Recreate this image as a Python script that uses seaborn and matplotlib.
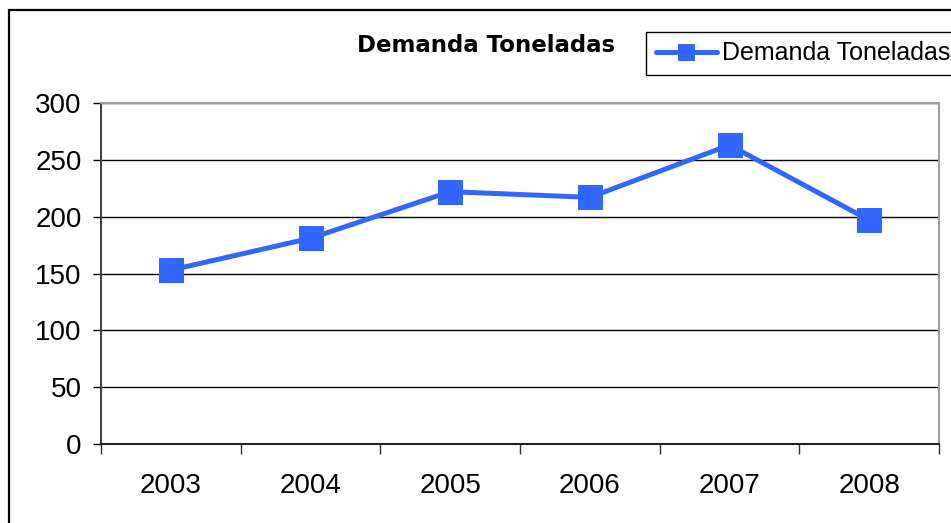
import matplotlib
matplotlib.use("Agg")
import matplotlib.pyplot as plt
from matplotlib.patches import Rectangle
from matplotlib.ticker import FixedLocator
import seaborn as sns
import pandas as pd

# datos
anios = ["2003", "2004", "2005", "2006", "2007", "2008"]
demanda = [153, 181, 222, 217, 263, 197]
serie = "Demanda Toneladas"
y_ticks = [0, 50, 100, 150, 200, 250, 300]

azul = "#3366ff"

sns.set_theme(style="white")
plt.rcParams['font.family'] = ['Liberation Sans', 'DejaVu Sans']
plt.rcParams['text.color'] = 'black'

df = pd.DataFrame({"Anio": anios, "Demanda": demanda})

W, H = 951, 523
fig = plt.figure(figsize=(W / 100, H / 100), dpi=100)
fig.patch.set_facecolor("white")
ax = fig.add_axes([101 / W, 1 - 444 / H, (939 - 101) / W, (444 - 103) / H])

sns.lineplot(data=df, x="Anio", y="Demanda", ax=ax, sort=False,
             color=azul, linewidth=3.6, marker="s", markersize=17.5,
             markeredgecolor=azul, label=serie)

ax.set_xlim(-0.5, len(anios) - 0.5)
ax.set_ylim(0, 300)
ax.set_yticks(y_ticks)
ax.set_xlabel("")
ax.set_ylabel("")

# grid horizontal negro como en excel
ax.set_axisbelow(True)
ax.yaxis.grid(True, color="black", linewidth=1)
ax.xaxis.grid(False)

# ticks del eje x entre categorias
ax.xaxis.set_minor_locator(FixedLocator([i - 0.5 for i in range(len(anios) + 1)]))
ax.tick_params(axis="x", which="major", length=0, pad=21, labelsize=20, colors="black")
ax.tick_params(axis="x", which="minor", bottom=True, length=7, width=1, color="#333333", direction="out")
ax.tick_params(axis="y", which="major", left=True, length=6, width=1, pad=8, labelsize=20,
               colors="black", direction="out")

ax.spines["left"].set_color("#444444")
ax.spines["left"].set_linewidth(1.5)
ax.spines["bottom"].set_color("#222222")
ax.spines["bottom"].set_linewidth(1.5)
ax.spines["top"].set_color("#a0a0a0")
ax.spines["top"].set_linewidth(1.5)
ax.spines["right"].set_color("#a0a0a0")
ax.spines["right"].set_linewidth(1.5)

# titulo
fig.text(486.5 / W, 1 - 51.5 / H, serie, ha="center", va="baseline", color="black",
         fontsize=16.5, fontweight="bold", family=["DejaVu Sans"])

# leyenda (pegada al borde derecho como en el original)
leg = ax.legend(loc="upper left", bbox_to_anchor=(646 / W, 1 - 32 / H),
                bbox_transform=fig.transFigure, frameon=True, fancybox=False,
                fontsize=18, borderpad=0.38, handlelength=2.45, handletextpad=0.2,
                markerscale=0.67, borderaxespad=0)
leg.get_frame().set_edgecolor("black")
leg.get_frame().set_linewidth(1)
leg.get_frame().set_facecolor("white")
leg.get_frame().set_alpha(1)
for t in leg.get_texts():
    t.set_color("black")

# marco del grafico
marco = Rectangle((9 / W, -0.1), 1.2, 1 - 10 / H + 0.1, transform=fig.transFigure,
                  fill=False, edgecolor="black", linewidth=1.6, clip_on=False)
fig.add_artist(marco)

fig.savefig("out.png", dpi=100)
